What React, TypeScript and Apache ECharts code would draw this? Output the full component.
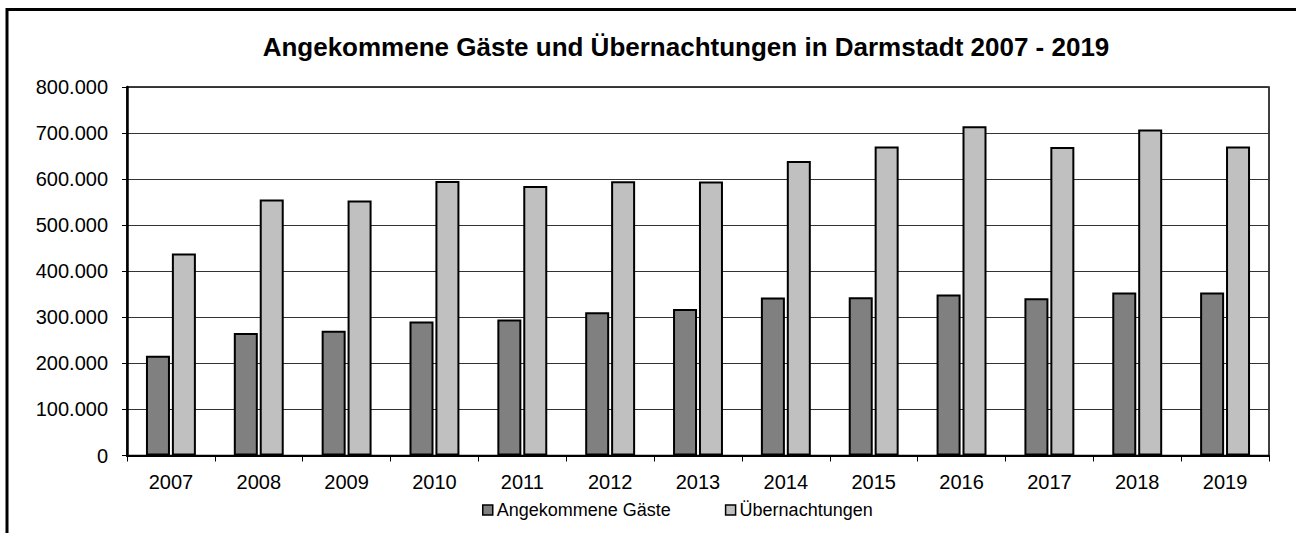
import React, { useEffect, useRef } from "react";
import * as echarts from "echarts";

const years = ["2007", "2008", "2009", "2010", "2011", "2012", "2013", "2014", "2015", "2016", "2017", "2018", "2019"];
const gaeste = [216500, 265700, 270800, 291000, 295400, 311000, 317800, 343000, 343800, 349700, 341600, 354000, 354000];
const uebernachtungen = [438600, 555700, 553600, 596000, 585000, 595400, 594700, 639500, 671000, 714700, 669800, 707600, 671000];
const titleText = "Angekommene Gäste und Übernachtungen in Darmstadt 2007 - 2019";
const seriesNames = ["Angekommene Gäste", "Übernachtungen"];

const fmt = (v: number) => String(v).replace(/\B(?=(\d{3})+(?!\d))/g, ".");

export default function App() {
  const ref = useRef<HTMLDivElement>(null);
  useEffect(() => {
    if (!ref.current) return;
    const chart = echarts.init(ref.current, undefined, { renderer: "svg" });
    const font = "'Liberation Sans', Arial, sans-serif";
    chart.setOption({
      animation: false,
      backgroundColor: "#fff",
      textStyle: { fontFamily: font },
      title: {
        text: titleText,
        left: 681,
        top: 29,
        textAlign: "center",
        textStyle: { fontFamily: font, fontWeight: "bold", fontSize: 26, color: "#000" },
      },
      legend: {
        data: seriesNames,
        top: 496,
        left: 477,
        itemWidth: 10,
        itemHeight: 10,
        itemGap: 54,
        icon: "rect",
        textStyle: { fontFamily: font, fontSize: 18, color: "#000", padding: [0, 0, 0, -1] },
        itemStyle: { borderColor: "#000", borderWidth: 1.5 },
      },
      grid: { left: 127, top: 87, right: 27, bottom: 77.5, show: true, borderColor: "#000", borderWidth: 1.5 },
      xAxis: {
        type: "category",
        data: years,
        boundaryGap: true,
        axisLine: { show: true, lineStyle: { color: "#000", width: 2 } },
        axisTick: { show: true, length: 6, alignWithLabel: false, lineStyle: { color: "#000", width: 1 }, inside: false },
        axisLabel: { fontFamily: font, fontSize: 20, color: "#000", margin: 16 },
        splitLine: { show: false },
      },
      yAxis: {
        type: "value",
        min: 0,
        max: 800000,
        interval: 100000,
        axisLine: { show: true, lineStyle: { color: "#000", width: 2.5 } },
        axisTick: { show: true, length: 5, lineStyle: { color: "#000", width: 1 } },
        axisLabel: { fontFamily: font, fontSize: 20, color: "#000", margin: 19, formatter: (v: number) => fmt(v) },
        splitLine: { show: true, lineStyle: { color: "#333", width: 1.2 } },
      },
      series: [
        {
          name: seriesNames[0],
          type: "bar",
          data: gaeste,
          barWidth: 24,
          barGap: "8%",
          itemStyle: { color: "#808080", borderColor: "#000", borderWidth: 2 },
        },
        {
          name: seriesNames[1],
          type: "bar",
          data: uebernachtungen,
          barWidth: 24,
          barGap: "8%",
          itemStyle: { color: "#c0c0c0", borderColor: "#000", borderWidth: 2 },
        },
      ],
      graphic: [
        {
          type: "polyline",
          shape: { points: [[7, 560], [7, 9.5], [1320, 9.5]] },
          style: { fill: "none", stroke: "#000", lineWidth: 3 },
          silent: true,
          z: 100,
        },
      ],
    });
    return () => chart.dispose();
  }, []);
  return <div ref={ref} style={{ position: "absolute", left: 0, top: 0, width: 1296, height: 533 }} />;
}
